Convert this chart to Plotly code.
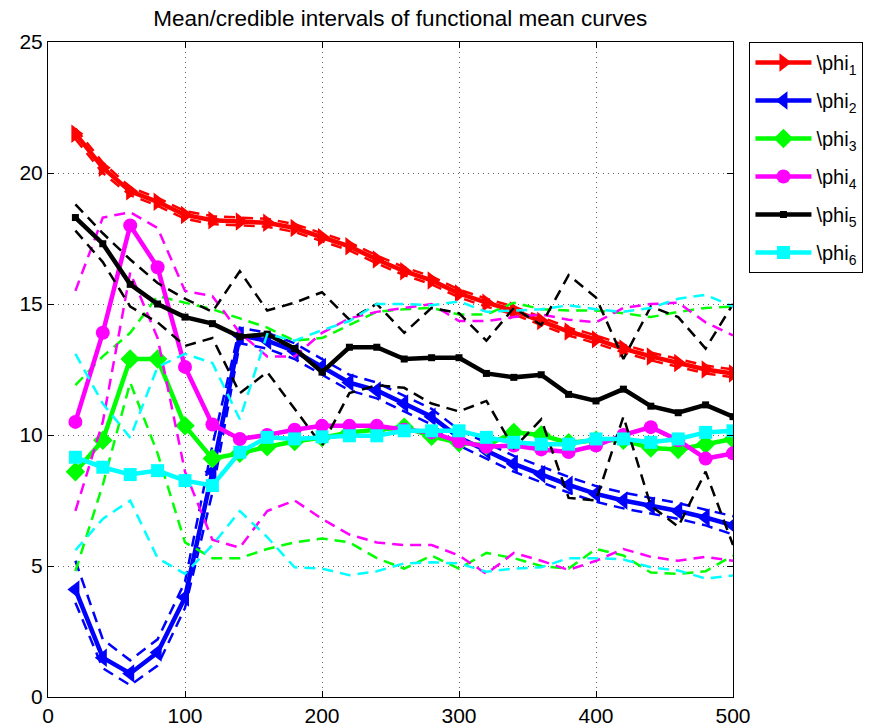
import plotly.graph_objects as go

x = [20, 40, 60, 80, 100, 120, 140, 160, 180, 200, 220, 240, 260, 280, 300,
     320, 340, 360, 380, 400, 420, 440, 460, 480, 500]

# phi_1 (red)
phi1_mean = [21.5, 20.2, 19.3, 18.9, 18.4, 18.2, 18.15, 18.1, 17.9, 17.55, 17.2, 16.7, 16.25,
             15.9, 15.4, 15.05, 14.75, 14.35, 13.95, 13.65, 13.3, 13.0, 12.75, 12.5, 12.35]
phi1_up = [21.7, 20.4, 19.45, 19.05, 18.55, 18.35, 18.3, 18.25, 18.05, 17.7, 17.35, 16.85, 16.4,
           16.05, 15.55, 15.2, 14.9, 14.5, 14.1, 13.8, 13.45, 13.15, 12.9, 12.65, 12.5]
phi1_lo = [21.3, 20.0, 19.15, 18.75, 18.25, 18.05, 18.0, 17.95, 17.75, 17.4, 17.05, 16.55, 16.1,
           15.75, 15.25, 14.9, 14.6, 14.2, 13.8, 13.5, 13.15, 12.85, 12.6, 12.35, 12.2]

# phi_2 (blue)
phi2_mean = [4.1, 1.5, 0.9, 1.7, 3.8, 8.6, 13.8, 13.6, 13.2, 12.6, 12.0, 11.7, 11.2,
             10.7, 9.9, 9.4, 8.9, 8.5, 8.1, 7.75, 7.5, 7.3, 7.1, 6.85, 6.55]
phi2_up = [5.2, 2.2, 1.4, 2.2, 4.4, 9.6, 14.1, 13.9, 13.5, 12.9, 12.3, 12.0, 11.5,
           11.0, 10.2, 9.7, 9.2, 8.8, 8.4, 8.05, 7.8, 7.6, 7.4, 7.15, 6.9]
phi2_lo = [3.6, 1.1, 0.45, 1.2, 3.4, 7.8, 13.5, 13.3, 12.9, 12.3, 11.7, 11.4, 10.9,
           10.4, 9.6, 9.1, 8.6, 8.2, 7.8, 7.45, 7.2, 7.0, 6.8, 6.55, 6.2]

# phi_3 (green)
phi3_mean = [8.6, 9.8, 12.9, 12.9, 10.35, 9.1, 9.3, 9.55, 9.75, 9.9, 10.1, 10.2, 10.3,
             9.95, 9.7, 9.6, 10.1, 10.0, 9.7, 9.8, 9.8, 9.5, 9.45, 9.65, 9.85]
phi3_up = [11.9, 13.0, 13.9, 15.3, 15.05, 14.8, 14.45, 14.1, 13.6, 13.7, 14.2, 14.7, 14.8,
           14.85, 14.6, 14.6, 15.05, 14.8, 14.75, 14.75, 14.65, 14.5, 14.7, 14.85, 14.9]
phi3_lo = [4.8, 8.1, 12.0, 9.3, 5.9, 5.3, 5.3, 5.65, 5.9, 6.05, 5.9, 5.3, 4.9,
           5.4, 4.9, 5.5, 5.3, 5.0, 4.9, 5.65, 5.4, 4.75, 4.7, 4.8, 5.4]

# phi_4 (magenta)
phi4_mean = [10.5, 13.9, 18.0, 16.4, 12.6, 10.4, 9.85, 10.0, 10.2, 10.35, 10.35, 10.35, 10.2,
             10.1, 9.75, 9.55, 9.6, 9.45, 9.35, 9.6, 10.0, 10.3, 9.8, 9.1, 9.3]
phi4_up = [15.5, 18.3, 18.5, 17.9, 15.5, 15.3, 13.9, 13.0, 13.0, 13.9, 14.45, 14.7, 14.85,
           15.0, 14.35, 14.35, 14.5, 14.6, 14.4, 14.3, 14.85, 15.0, 15.05, 14.3, 13.8]
phi4_lo = [7.1, 10.5, 16.2, 13.7, 8.6, 6.0, 5.7, 7.1, 7.5, 6.8, 6.2, 5.9, 5.8,
           5.8, 5.4, 4.7, 5.5, 5.2, 4.85, 5.2, 5.65, 5.35, 5.2, 5.35, 5.2]

# phi_5 (black)
phi5_mean = [18.3, 17.3, 15.75, 15.0, 14.5, 14.25, 13.75, 13.85, 13.3, 12.4, 13.35, 13.35, 12.9,
             12.95, 12.95, 12.35, 12.2, 12.3, 11.55, 11.3, 11.75, 11.1, 10.85, 11.15, 10.7]
phi5_up = [18.8, 17.7, 16.7, 15.8, 15.2, 14.7, 16.25, 14.75, 15.05, 15.45, 14.4, 15.0, 13.9,
           14.85, 14.65, 13.6, 14.85, 14.2, 16.1, 15.25, 12.9, 14.9, 14.5, 13.3, 15.0]
phi5_lo = [17.8, 16.6, 14.9, 14.3, 13.4, 13.7, 11.6, 12.4, 11.0, 9.6, 11.6, 11.9, 11.8,
           11.2, 10.9, 11.3, 9.5, 10.6, 7.6, 7.5, 10.7, 7.3, 6.5, 8.6, 5.8]

# phi_6 (cyan)
phi6_mean = [9.15, 8.77, 8.49, 8.64, 8.26, 8.07, 9.34, 9.91, 9.85, 9.93, 9.97, 9.97, 10.16,
             10.16, 10.16, 9.91, 9.72, 9.65, 9.65, 9.85, 9.85, 9.72, 9.85, 10.1, 10.16]
phi6_up = [13.1, 11.2, 9.9, 12.6, 13.1, 12.75, 10.6, 13.85, 13.6, 14.0, 14.35, 15.0, 15.0,
           14.95, 15.1, 14.7, 14.75, 14.8, 14.95, 14.8, 14.7, 14.85, 15.2, 15.35, 14.9]
phi6_lo = [5.6, 6.8, 7.5, 5.3, 4.7, 5.8, 7.1, 6.1, 4.95, 4.9, 4.65, 4.8, 5.1,
           5.14, 5.1, 4.78, 4.9, 4.95, 5.3, 5.3, 5.25, 4.95, 4.83, 4.52, 4.64]

series = [
    ("\\phi<sub>1</sub>", "#ff0000", "triangle-right", 16, phi1_mean, phi1_up, phi1_lo),
    ("\\phi<sub>2</sub>", "#0000ff", "triangle-left", 16, phi2_mean, phi2_up, phi2_lo),
    ("\\phi<sub>3</sub>", "#00ff00", "diamond", 15, phi3_mean, phi3_up, phi3_lo),
    ("\\phi<sub>4</sub>", "#ff00ff", "circle", 14, phi4_mean, phi4_up, phi4_lo),
    ("\\phi<sub>5</sub>", "#000000", "square", 7, phi5_mean, phi5_up, phi5_lo),
    ("\\phi<sub>6</sub>", "#00ffff", "square", 13, phi6_mean, phi6_up, phi6_lo),
]

fig = go.Figure()
for i, (name, color, sym, msize, m, up, lo) in enumerate(series):
    fig.add_trace(go.Scatter(
        x=x, y=m, name=name, mode="lines+markers", legendgroup=f"g{i}",
        line=dict(color=color, width=4.5),
        marker=dict(symbol=sym, size=msize, color=color),
    ))
    for band in (up, lo):
        fig.add_trace(go.Scatter(
            x=x, y=band, mode="lines", showlegend=False, legendgroup=f"g{i}",
            line=dict(color=color, width=2.5, dash="11px,7px"),
            hoverinfo="skip",
        ))

axis_common = dict(
    showline=True, linecolor="black", linewidth=1, mirror="ticks",
    ticks="inside", ticklen=6, tickcolor="black",
    showgrid=True, gridcolor="rgba(0,0,0,0.6)", griddash="1px,4px", gridwidth=1,
    zeroline=False, automargin=False,
    tickfont=dict(family="Liberation Sans, Arial, sans-serif", size=21, color="black"),
)

fig.update_xaxes(range=[0, 500], tickvals=[0, 100, 200, 300, 400, 500], **axis_common)
fig.update_yaxes(range=[0, 25], tickvals=[0, 5, 10, 15, 20, 25], **axis_common)

fig.update_layout(
    width=872, height=728,
    margin=dict(l=48, r=139, t=42, b=31, autoexpand=False),
    paper_bgcolor="white", plot_bgcolor="white",
    title=dict(text="Mean/credible intervals of functional mean curves",
               x=0.459, xanchor="center", y=0.975, yanchor="middle", automargin=False,
               font=dict(family="Liberation Sans, Arial, sans-serif", size=22.5, color="black")),
    legend=dict(x=1.024, y=1.0, xanchor="left", yanchor="top",
                bordercolor="black", borderwidth=1, bgcolor="white",
                tracegroupgap=9, itemwidth=56,
                font=dict(family="Liberation Sans, Arial, sans-serif", size=20, color="black")),
    showlegend=True,
)

fig.write_html("out.html")
